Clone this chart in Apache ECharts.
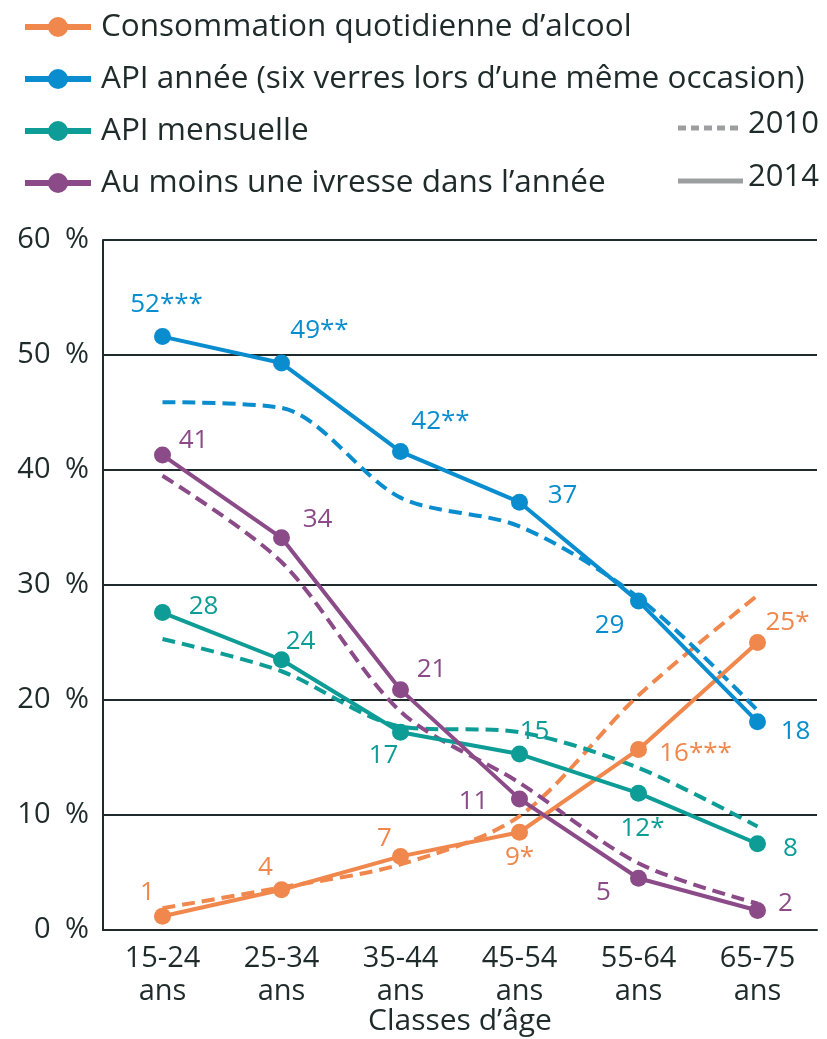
<!DOCTYPE html>
<html lang="fr">
<head>
<meta charset="utf-8">
<script src="https://cdn.jsdelivr.net/npm/echarts@6/dist/echarts.min.js"></script>
<style>
  html, body { margin: 0; padding: 0; background: #fff; }
  #main { width: 827px; height: 1039px; }
</style>
</head>
<body>
<div id="main"></div>
<script>
// catégories et valeurs (en %)
var categories = ['15-24\nans', '25-34\nans', '35-44\nans', '45-54\nans', '55-64\nans', '65-75\nans'];
var yTicks = [0, 10, 20, 30, 40, 50, 60];

var alcool2014 = [1.2, 3.5, 6.4, 8.5, 15.7, 25.0];
var alcool2010 = [1.9, 3.7, 5.7, 9.9, 20.4, 29.1];
var apiAn2014 = [51.6, 49.3, 41.6, 37.2, 28.6, 18.1];
var apiAn2010 = [45.9, 45.4, 37.6, 35.1, 28.9, 19.1];
var apiMois2014 = [27.6, 23.5, 17.2, 15.3, 11.9, 7.5];
var apiMois2010 = [25.3, 22.5, 17.7, 17.2, 14.1, 9.0];
var ivresse2014 = [41.3, 34.1, 20.9, 11.4, 4.5, 1.7];
var ivresse2010 = [39.5, 32.0, 19.0, 12.8, 5.8, 2.3];

// étiquettes affichées (2014)
var alcoolLabels = ['1', '4', '7', '9*', '16***', '25*'];
var apiAnLabels = ['52***', '49**', '42**', '37', '29', '18'];
var apiMoisLabels = ['28', '24', '17', '15', '12*', '8'];
var ivresseLabels = ['41', '34', '21', '11', '5', '2'];

var names = [
  'Consommation quotidienne d\u2019alcool',
  'API ann\u00e9e (six verres lors d\u2019une m\u00eame occasion)',
  'API mensuelle',
  'Au moins une ivresse dans l\u2019ann\u00e9e'
];

var colors = ['#f0874c', '#0a8dcf', '#0e9d96', '#8b4b88'];
var dark = '#1f2b2a';

// décalage des étiquettes par rapport aux points
var alcoolOffsets = [[-15, -24], [-16, -22], [-16, -18], [0, 25], [57, 4], [30, -20]];
var apiAnOffsets = [[4, -32], [38, -32], [40, -30], [43, -7], [-29, 24], [38, 10]];
var apiMoisOffsets = [[41, -6], [19, -18], [-17, 23], [15, -22], [4, 35], [33, 5]];
var ivresseOffsets = [[31, -14], [36, -18], [31, -20], [-46, 3], [-35, 14], [28, -7]];

function solid(name, values, labels, offsets, color) {
  return {
    name: name,
    type: 'line',
    z: 3,
    symbol: 'circle',
    symbolSize: 17,
    color: color,
    lineStyle: { width: 4, color: color },
    itemStyle: { color: color },
    label: {
      show: true,
      position: 'inside',
      color: color,
      fontSize: 26,
      fontFamily: 'Open Sans'
    },
    data: values.map(function (v, i) {
      return {
        value: v,
        label: { formatter: labels[i], offset: offsets[i] }
      };
    })
  };
}

function dashed(name, values, color) {
  return {
    name: name,
    type: 'line',
    z: 2,
    smooth: 0.3,
    symbol: 'none',
    lineStyle: { width: 4, type: [13, 7], color: color },
    itemStyle: { color: color },
    data: values
  };
}

var myChart = echarts.init(document.getElementById('main'));
myChart.setOption({
  animation: false,
  textStyle: { fontFamily: 'Open Sans', color: dark },
  legend: {
    data: names,
    orient: 'vertical',
    left: 17,
    top: 6,
    itemWidth: 66,
    itemHeight: 25,
    itemGap: 20,
    selectedMode: false,
    lineStyle: { width: 6 },
    textStyle: { fontSize: 31.5, lineHeight: 32, color: dark, padding: [0, 0, 0, 5] }
  },
  graphic: [
    { type: 'line', shape: { x1: 678, y1: 128, x2: 743, y2: 128 },
      style: { stroke: '#9b9fa0', lineWidth: 5, lineDash: [8, 5] } },
    { type: 'text', left: 748, top: 109,
      style: { text: '2010', fontSize: 31, fontFamily: 'Open Sans', fill: dark } },
    { type: 'line', shape: { x1: 678, y1: 181, x2: 743, y2: 181 },
      style: { stroke: '#9b9fa0', lineWidth: 5 } },
    { type: 'text', left: 748, top: 162,
      style: { text: '2014', fontSize: 31, fontFamily: 'Open Sans', fill: dark } }
  ],
  grid: { left: 103, right: 10, top: 240, bottom: 109, outerBoundsMode: 'none' },
  xAxis: {
    type: 'category',
    data: categories,
    name: 'Classes d\u2019\u00e2ge',
    nameLocation: 'middle',
    nameMoveOverlap: false,
    nameGap: 76,
    nameTextStyle: { fontSize: 30, color: dark },
    axisLine: { lineStyle: { color: dark, width: 2 } },
    axisTick: { inside: true, length: 16, lineStyle: { color: dark, width: 2 } },
    axisLabel: { fontSize: 29, lineHeight: 33, margin: 12, color: dark }
  },
  yAxis: {
    type: 'value',
    min: yTicks[0],
    max: yTicks[yTicks.length - 1],
    interval: 10,
    axisLine: { show: true, lineStyle: { color: dark, width: 2 } },
    axisTick: { show: false },
    axisLabel: { fontSize: 29, margin: 14, color: dark, formatter: '{value}\u2002%' },
    splitLine: { lineStyle: { color: dark, width: 2 } }
  },
  series: [
    dashed('alcool 2010', alcool2010, colors[0]),
    dashed('api an 2010', apiAn2010, colors[1]),
    dashed('api mois 2010', apiMois2010, colors[2]),
    dashed('ivresse 2010', ivresse2010, colors[3]),
    solid(names[0], alcool2014, alcoolLabels, alcoolOffsets, colors[0]),
    solid(names[1], apiAn2014, apiAnLabels, apiAnOffsets, colors[1]),
    solid(names[2], apiMois2014, apiMoisLabels, apiMoisOffsets, colors[2]),
    solid(names[3], ivresse2014, ivresseLabels, ivresseOffsets, colors[3])
  ]
});
</script>
</body>
</html>
